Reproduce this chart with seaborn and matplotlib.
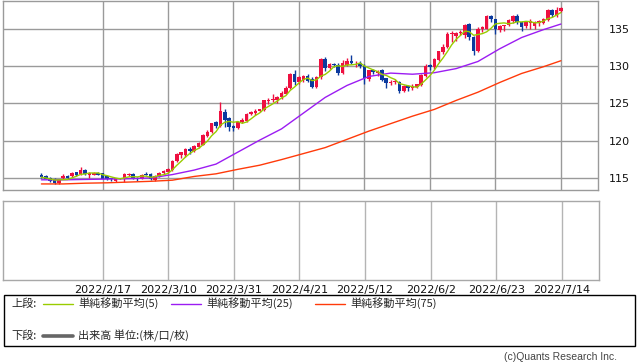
import numpy as np
import pandas as pd
import matplotlib
matplotlib.use("Agg")
import matplotlib.pyplot as plt
from matplotlib.patches import Rectangle
from matplotlib.lines import Line2D
import seaborn as sns

# ---------------- data ----------------
start_date = "2022-01-28"
end_date = "2022-07-14"

opens = [115.45, 115.25, 115.00, 114.85, 114.35, 115.00, 115.30, 115.25, 115.80, 115.55,
         116.15, 115.45, 115.50, 115.70, 115.65, 115.25, 115.00, 114.60, 115.05, 114.90,
         115.45, 115.60, 115.00, 114.90, 115.55, 115.55, 114.75, 115.30, 115.70, 115.80,
         116.10, 117.35, 118.05, 118.15, 118.95, 118.65, 119.20, 119.50, 120.60, 121.15,
         122.50, 121.95, 123.80, 123.00, 121.95, 121.75, 122.50, 122.65, 123.60, 123.70,
         124.00, 124.10, 125.30, 125.40, 125.50, 125.80, 126.30, 127.00, 128.90, 127.90,
         128.10, 128.60, 128.30, 127.15, 128.50, 130.90, 129.75, 130.30, 130.10, 129.10,
         130.15, 130.70, 130.35, 130.40, 130.05, 128.30, 129.40, 129.10, 129.40, 128.35,
         127.70, 127.90, 127.85, 126.70, 127.30, 127.00, 127.15, 127.45, 128.70, 130.10,
         129.80, 130.85, 131.90, 132.55, 134.30, 133.95, 134.45, 134.10, 135.60, 133.90,
         132.05, 134.95, 134.95, 136.70, 136.25, 134.80, 135.30, 135.50, 135.95, 136.70,
         135.85, 135.30, 135.75, 135.40, 135.70, 135.80, 136.10, 137.45, 136.75, 137.40]
highs = [115.70, 115.45, 115.15, 115.00, 114.95, 115.55, 115.40, 115.80, 115.90, 116.45,
         116.30, 115.80, 115.85, 115.80, 115.75, 115.30, 115.10, 115.10, 115.10, 115.75,
         115.75, 115.75, 115.15, 115.60, 115.80, 115.70, 115.45, 115.85, 116.10, 116.35,
         117.45, 118.40, 118.55, 119.00, 119.20, 119.40, 119.80, 120.95, 121.40, 122.45,
         122.60, 125.15, 124.30, 123.20, 122.10, 122.60, 123.00, 123.75, 124.00, 124.20,
         124.30, 125.50, 125.75, 126.20, 126.00, 126.60, 127.30, 129.00, 129.40, 128.70,
         128.80, 128.90, 128.50, 128.70, 131.10, 131.20, 130.40, 130.45, 130.35, 130.80,
         131.00, 131.40, 130.60, 130.60, 130.20, 129.50, 129.60, 129.50, 129.60, 128.40,
         128.10, 128.20, 128.00, 127.50, 127.40, 127.60, 127.60, 128.90, 130.20, 130.30,
         131.00, 132.00, 132.90, 134.50, 134.65, 134.60, 134.80, 135.60, 135.70, 134.00,
         135.20, 135.40, 136.75, 136.75, 136.30, 135.50, 135.50, 136.30, 136.75, 137.00,
         135.95, 136.00, 136.30, 136.00, 136.10, 136.40, 137.60, 137.60, 137.90, 137.85]
lows = [115.00, 114.85, 114.55, 114.20, 114.30, 114.90, 114.90, 115.15, 115.35, 115.40,
        115.40, 115.05, 115.40, 115.40, 114.85, 114.80, 114.70, 114.50, 114.85, 114.50,
        115.35, 114.85, 114.70, 114.85, 115.40, 114.75, 114.65, 115.20, 115.60, 115.70,
        116.00, 117.20, 117.70, 117.90, 118.20, 118.50, 119.10, 119.40, 120.50, 121.00,
        121.70, 121.90, 121.90, 121.30, 121.30, 121.60, 122.40, 122.50, 123.40, 123.50,
        123.80, 124.00, 124.90, 125.20, 125.00, 125.60, 126.20, 126.90, 127.40, 127.60,
        127.80, 127.80, 127.00, 127.00, 128.30, 129.30, 129.60, 129.90, 128.80, 128.90,
        130.00, 130.20, 129.90, 129.70, 127.60, 128.00, 128.90, 128.70, 128.00, 127.00,
        127.50, 127.60, 126.40, 126.50, 126.70, 126.80, 127.00, 127.30, 128.50, 129.50,
        129.60, 130.70, 131.60, 132.40, 133.20, 133.30, 134.20, 133.80, 133.50, 131.50,
        131.80, 134.60, 134.90, 135.90, 134.30, 134.50, 134.70, 135.30, 135.80, 135.60,
        134.70, 135.10, 135.00, 135.00, 135.40, 135.60, 136.00, 136.50, 136.60, 137.20]
closes = [115.15, 114.95, 114.65, 114.35, 114.85, 115.30, 115.05, 115.75, 115.45, 116.10,
          115.55, 115.70, 115.75, 115.50, 114.90, 114.95, 114.85, 115.00, 114.95, 115.55,
          115.60, 115.00, 114.85, 115.50, 115.45, 114.90, 115.35, 115.75, 116.00, 116.25,
          117.35, 118.30, 118.45, 118.85, 118.65, 119.30, 119.70, 120.85, 121.25, 122.35,
          122.00, 124.00, 122.80, 121.85, 121.75, 122.50, 122.85, 123.65, 123.90, 124.00,
          124.25, 125.45, 125.40, 125.60, 125.80, 126.40, 127.00, 128.90, 127.90, 128.50,
          128.60, 128.05, 127.15, 128.50, 130.90, 129.75, 130.30, 130.10, 129.10, 130.45,
          130.70, 130.40, 130.45, 130.00, 128.40, 129.40, 129.15, 129.35, 128.10, 127.70,
          127.90, 127.95, 126.65, 127.30, 127.00, 127.30, 127.55, 128.80, 130.05, 129.85,
          130.90, 131.95, 132.60, 134.30, 134.45, 134.45, 134.60, 135.50, 133.90, 132.05,
          134.95, 135.20, 136.70, 136.25, 135.00, 135.35, 135.45, 136.15, 136.70, 135.85,
          135.25, 135.85, 135.95, 135.90, 136.00, 136.30, 137.45, 136.75, 137.45, 137.75]

# moving averages of 25 and 75 days, read every 5 sessions (index, value)
ma25_idx = [0, 5, 10, 15, 20, 25, 30, 35, 40, 45, 50, 55, 60, 65, 70, 75, 80, 85, 90, 95, 100, 105, 110, 115, 119]
ma25_val = [114.80, 114.80, 114.85, 114.90, 114.95, 115.05, 115.50, 116.10, 116.90, 118.50,
            120.10, 121.60, 123.70, 125.80, 127.40, 128.60, 129.05, 128.90, 129.10, 129.65,
            130.60, 132.30, 133.80, 134.85, 135.60]
ma75_idx = ma25_idx
ma75_val = [114.25, 114.25, 114.35, 114.40, 114.50, 114.60, 114.75, 115.25, 115.60, 116.20,
            116.75, 117.50, 118.30, 119.10, 120.20, 121.30, 122.30, 123.30, 124.20, 125.40,
            126.50, 127.80, 129.00, 129.90, 130.70]

tick_dates = ["2022/2/17", "2022/3/10", "2022/3/31", "2022/4/21",
              "2022/5/12", "2022/6/2", "2022/6/23", "2022/7/14"]
y_ticks = [115, 120, 125, 130, 135]

legend_top_labels = ["単純移動平均(5)", "単純移動平均(25)", "単純移動平均(75)"]
legend_bottom_label = "出来高 単位:(株/口/枚)"

# ---------------- preparation ----------------
dates = pd.bdate_range(start_date, end_date)
n = len(dates)
idx = np.arange(n)
df = pd.DataFrame({"i": idx, "open": opens, "high": highs, "low": lows, "close": closes})
df["ma5"] = df["close"].rolling(5, min_periods=1).mean()
ma25 = pd.DataFrame({"i": ma25_idx, "v": ma25_val})
ma75 = pd.DataFrame({"i": ma75_idx, "v": ma75_val})
tick_pos = [dates.get_loc(pd.Timestamp(d.replace("/", "-"))) for d in tick_dates]

UP = "#EE1040"
DOWN = "#0B3A9E"
C5 = "#99CC00"
C25 = "#9B1CF2"
C75 = "#FF3A0A"
GRID = "#9a9a9a"

sns.set_style("white")
plt.rcParams["font.family"] = ["DejaVu Sans", "Noto Sans CJK JP"]
JP = ["Noto Sans CJK JP", "DejaVu Sans"]

W, H = 638, 362
fig = plt.figure(figsize=(W / 100, H / 100), dpi=100)

def fx(px):
    return px / W

def fy(py):
    return 1 - py / H

xlim = (-8.8, 127.5)

# ---------------- upper panel ----------------
ax = fig.add_axes([fx(3), fy(190), fx(595), (190 - 0.6) / H])
ax.set_xlim(*xlim)
ax.set_ylim(113.44, 138.73)

colors = np.where(df["close"] >= df["open"], UP, DOWN)
ax.vlines(df["i"], df["low"], df["high"], colors=colors, linewidth=1.0, zorder=3)
body_bottom = np.minimum(df["open"], df["close"])
body_h = np.maximum(np.abs(df["close"] - df["open"]), 0.06)
ax.bar(df["i"], body_h, bottom=body_bottom, width=0.82, color=colors, linewidth=0, zorder=4)

sns.lineplot(data=ma75, x="i", y="v", ax=ax, color=C75, linewidth=1.0, zorder=5, legend=False)
sns.lineplot(data=ma25, x="i", y="v", ax=ax, color=C25, linewidth=1.0, zorder=5, legend=False)
sns.lineplot(data=df, x="i", y="ma5", ax=ax, color=C5, linewidth=1.0, zorder=6, legend=False)

ax.set_xticks(tick_pos)
ax.set_xticklabels([])
ax.set_yticks(y_ticks)
ax.yaxis.tick_right()
ax.tick_params(axis="both", length=0)
ax.tick_params(axis="y", pad=7.5, labelsize=8, labelcolor="#111111")
ax.grid(True, color=GRID, linewidth=1.0, zorder=0)
ax.set_axisbelow(True)
ax.set_xlabel("")
ax.set_ylabel("")
for s in ax.spines.values():
    s.set_color(GRID)
    s.set_linewidth(1.0)

# ---------------- lower panel ----------------
ax2 = fig.add_axes([fx(3), fy(280), fx(596), 79 / H])
ax2.set_xlim(*xlim)
ax2.set_ylim(0, 1)
ax2.set_yticks([])
ax2.set_xticks(tick_pos)
ax2.set_xticklabels(tick_dates, fontsize=8)
ax2.tick_params(axis="x", length=0, pad=3.5, labelcolor="#111111")
ax2.grid(True, axis="x", color="#b4b4b4", linewidth=1.0)
for s in ax2.spines.values():
    s.set_color("#a8a8a8")
    s.set_linewidth(1.0)

# ---------------- legend box ----------------
fig.patches.append(Rectangle((fx(3.5), fy(346)), fx(631), 51 / H, transform=fig.transFigure,
                             fill=False, edgecolor="black", linewidth=1.0))
row1, row2 = 303.5, 336
fig.text(fx(11), fy(row1), "上段:", fontsize=8, family=JP, va="center", ha="left")
fig.text(fx(11), fy(row2), "下段:", fontsize=8, family=JP, va="center", ha="left")
for (x0, x1, tx), col, lab in zip([(43, 73, 78), (171, 201, 206), (315, 345, 350)],
                                  [C5, C25, C75], legend_top_labels):
    fig.add_artist(Line2D([fx(x0), fx(x1)], [fy(row1), fy(row1)], color=col, linewidth=1.0,
                          transform=fig.transFigure))
    fig.text(fx(tx), fy(row1), lab, fontsize=8, family=JP, va="center", ha="left")
fig.add_artist(Line2D([fx(43), fx(73)], [fy(row2), fy(row2)], color="#666666", linewidth=2.6,
                      transform=fig.transFigure))
fig.text(fx(78), fy(row2), legend_bottom_label, fontsize=8, family=JP, va="center", ha="left")

fig.text(fx(617), fy(357), "(c)Quants Research Inc.", fontsize=7.5, family=["Liberation Sans", "DejaVu Sans"],
         color="#444444", va="center", ha="right")

fig.savefig("out.png", dpi=100)
